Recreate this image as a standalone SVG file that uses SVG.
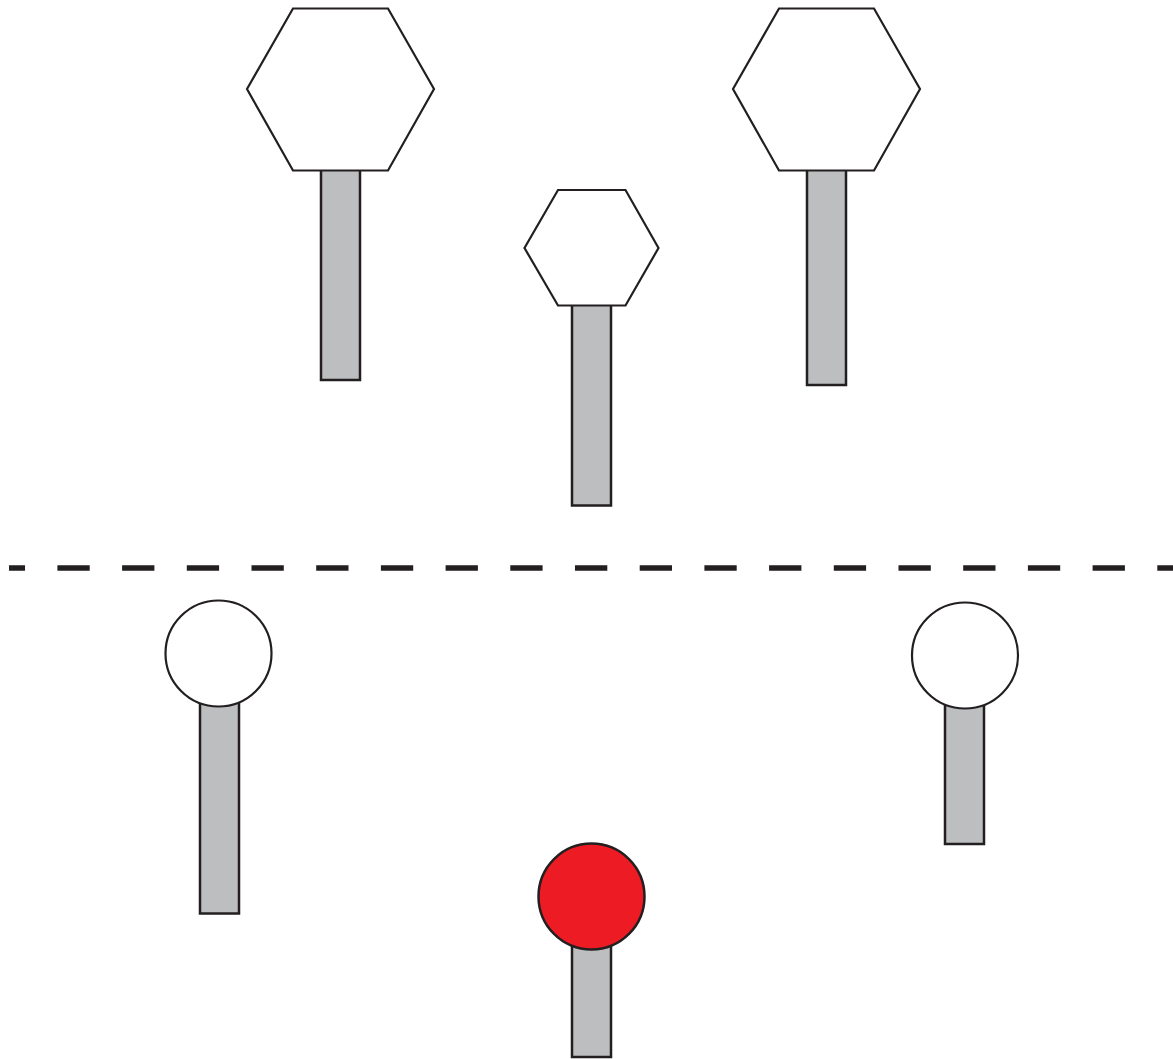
<svg xmlns="http://www.w3.org/2000/svg" width="1173" height="1059" viewBox="0 0 1173 1059">
<style>
.stem{fill:#BCBEC0;stroke:#231F20;stroke-width:2.5}
.head{fill:#FFFFFF;stroke:#231F20;stroke-width:2.2}
.red{fill:#ED1C24;stroke:#231F20;stroke-width:2.5}
.dash{stroke:#231F20;stroke-width:5.5;fill:none;stroke-dasharray:32.3 32.4;stroke-dashoffset:16.3}
</style>
<rect width="1173" height="1059" fill="#FFFFFF"/>
<g id="connectors">
<line class="dash" x1="9" y1="568" x2="1173" y2="568"/>
</g>
<g id="hex-left">
<rect class="stem" x="321" y="165" width="39" height="215"/>
<polygon class="head" points="293,8.5 388,8.5 434,89 388,170.5 293,170.5 247,89"/>
</g>
<g id="hex-middle">
<rect class="stem" x="572" y="300" width="39" height="205.5"/>
<polygon class="head" points="558,190 625.5,190 658.5,248 625.5,305.5 558,305.5 524.5,248"/>
</g>
<g id="hex-right">
<rect class="stem" x="807" y="165" width="39" height="220"/>
<polygon class="head" points="779,8.5 874,8.5 920,89 874,170.5 779,170.5 733,89"/>
</g>
<g id="circle-left">
<rect class="stem" x="200" y="695" width="39" height="218.5"/>
<circle class="head" cx="218.5" cy="653.5" r="53"/>
</g>
<g id="circle-right">
<rect class="stem" x="945" y="700" width="39" height="144"/>
<circle class="head" cx="965" cy="655.5" r="53"/>
</g>
<g id="circle-red">
<rect class="stem" x="572" y="940" width="39" height="117"/>
<circle class="red" cx="591.5" cy="896.5" r="53"/>
</g>
</svg>
